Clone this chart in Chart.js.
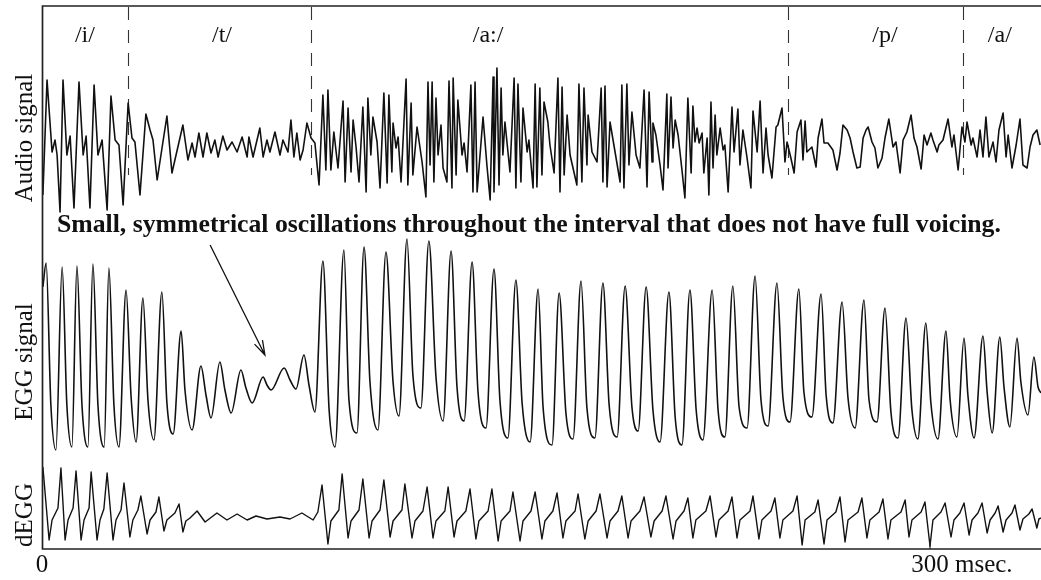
<!DOCTYPE html>
<html>
<head>
<meta charset="utf-8">
<script src="https://cdn.jsdelivr.net/npm/chart.js@4.4.0/dist/chart.umd.min.js"></script>
<style>
  html, body { margin: 0; padding: 0; background: #fff; }
  #wrap { width: 1041px; height: 580px; position: relative; }
</style>
</head>
<body>
<div id="wrap"><canvas id="egg"></canvas></div>
<script>
// segments of the utterance (ms)
const phonemes = ['/i/', '/t/', '/a:/', '/p/', '/a/'];
const phonemeMs = [14.5, 60.8, 150.7, 284.8, 323.6];
const boundaryMs = [29.1, 90.9, 252.0, 311.1];
const xTickMs = [0, 300];
const xTickLabels = ['0', '300 msec.'];
const panelTitles = ['Audio signal', 'EGG signal', 'dEGG'];
const note = 'Small, symmetrical oscillations throughout the interval that does not have full voicing.';

// audio waveform (ms, arbitrary amplitude)
const audioMs = [0.3, 1.7, 3.4, 4.4, 5.1, 6.1, 7.1, 8.4, 9.5, 10.8, 12.5, 13.9, 14.9, 16.2, 17.6, 18.9, 20.3, 22.0, 23.3, 24.7,
  26.0, 27.4, 29.1, 30.4, 31.4, 33.1, 35.1, 36.5, 37.5, 38.9, 42.2, 43.9, 47.6, 49.3, 50.7, 51.7, 53.0, 54.4, 55.7, 57.1,
  58.4, 59.5, 61.1, 62.5, 64.2, 65.9, 67.6, 69.3, 69.9, 71.3, 73.6, 74.7, 76.0, 77.0, 78.7, 80.4, 81.4, 83.1, 84.1, 85.1,
  86.1, 87.2, 88.2, 89.5, 90.9, 92.2, 93.6, 94.9, 95.9, 96.6, 97.6, 98.6, 100.0, 101.7, 102.4, 103.4, 104.4, 105.1, 106.1, 107.1,
  108.4, 109.5, 110.1, 111.1, 111.8, 113.2, 114.2, 115.5, 116.6, 117.2, 118.2, 118.6, 119.6, 120.3, 121.3, 123.0, 123.6, 124.7, 125.3, 126.7,
  128.4, 129.7, 130.4, 131.1, 131.8, 132.4, 133.1, 133.8, 134.8, 135.5, 136.8, 137.5, 138.5, 138.9, 139.9, 140.5, 141.9, 142.6, 143.6, 144.9,
  145.6, 146.3, 147.0, 149.0, 150.3, 151.4, 152.4, 152.7, 153.7, 154.4, 155.1, 155.7, 156.4, 158.1, 159.5, 160.1, 160.8, 161.8, 162.5, 163.9,
  164.5, 165.9, 166.6, 167.2, 168.2, 168.9, 169.6, 170.9, 171.6, 173.0, 174.3, 175.0, 175.7, 176.4, 177.4, 178.4, 180.7, 181.4, 182.4, 183.1,
  184.1, 184.5, 185.8, 187.5, 188.9, 189.5, 190.2, 190.9, 191.9, 193.6, 195.3, 195.9, 196.6, 197.6, 198.3, 199.3, 200.7, 202.0, 203.4, 204.4,
  205.1, 206.1, 206.4, 207.4, 208.8, 209.8, 211.1, 211.5, 212.5, 213.2, 213.9, 214.9, 216.2, 217.2, 218.2, 219.3, 219.9, 220.6, 221.3, 222.0,
  223.0, 223.6, 224.7, 225.3, 226.0, 226.7, 227.4, 228.0, 229.1, 230.1, 230.7, 231.8, 233.1, 233.8, 235.1, 235.8, 236.8, 238.2, 239.5, 240.2,
  241.6, 242.6, 243.6, 244.6, 245.3, 246.6, 248.0, 248.6, 250.0, 251.0, 251.7, 253.0, 254.1, 255.1, 256.4, 257.1, 257.8, 258.4, 260.1, 261.5,
  262.2, 263.5, 264.2, 265.5, 267.2, 268.6, 269.6, 270.6, 272.0, 273.0, 274.0, 275.3, 276.4, 277.4, 278.4, 279.1, 280.4, 281.4, 282.4, 283.8,
  284.8, 286.1, 287.5, 288.5, 289.9, 290.9, 292.2, 293.6, 294.6, 295.6, 297.0, 298.0, 299.0, 300.3, 301.0, 302.4, 303.0, 304.4, 306.1, 307.4,
  308.1, 309.5, 310.8, 311.8, 312.5, 313.9, 314.5, 315.9, 316.9, 317.9, 318.9, 319.9, 321.3, 322.3, 323.3, 324.7, 325.7, 326.4, 327.7, 329.1,
  330.4, 331.4, 332.8, 333.8, 334.8, 336.1, 337.2];
const audioAmp = [-50, 65, -7, 5, -10, -67, 65, -10, 9, -63, 63, -10, 9, -63, 60, -10, 5, -65, 49, 5,
  0, -60, 42, 7, 3, -50, 31, 15, 5, -35, 29, -28, 20, -15, 2, -12, 12, -12, 12, -8,
  5, -12, 9, -5, 3, -7, 8, -12, 8, -12, 17, -12, 5, -7, 13, -10, 5, -7, 25, -12,
  12, -15, -5, 22, 7, 2, -40, 50, -25, 55, -25, 13, -23, 44, -37, 37, -27, 25, -2, -37,
  38, -47, 47, -10, 28, 3, -43, 52, -38, 50, -27, 22, -3, 8, -37, 66, -40, 42, -30, 18,
  -17, -52, 63, -20, 63, -37, 47, -10, 20, -23, -37, 64, -43, 67, -30, 45, -10, 2, -27, 60,
  -47, 63, -47, 28, -20, -55, 68, -47, 77, -40, 57, -10, 23, -27, 67, -43, 61, -37, 37, -7,
  5, -43, 61, -42, 57, -30, 43, 23, 0, -28, 67, -47, 58, -30, 30, -10, -40, 61, -37, 57,
  -20, 30, -7, -17, 57, -37, 59, -42, 23, -7, -37, 60, -43, 61, -20, 33, -10, -23, 55, -42,
  53, -17, 22, 10, -20, -45, 51, -23, 48, -3, 25, 10, -25, -53, 47, -28, 39, 3, 17, 2,
  12, -28, 7, -50, 43, -23, 30, -10, 17, -5, 0, -47, 38, -7, 36, -20, 15, -13, -43, 34,
  -7, 44, -28, 17, -10, -33, 18, 20, 37, -17, 3, -13, -28, 13, 25, -15, 24, -7, -2, -22,
  7, 26, 2, 2, -5, -25, -8, 20, 15, 7, -7, -23, -22, 7, 15, 18, 3, -3, -23, -13,
  7, 26, -2, 3, -28, 5, 13, 30, 7, -2, -24, 10, 0, 12, 5, -7, 0, 5, 26, -2,
  10, -25, 18, 3, 23, 0, 7, -12, 15, -12, 28, -12, 3, -17, 15, 32, -12, 10, -23, 0,
  26, -20, -23, -2, 10, 15, 0];

// EGG: start, then peak / knee / trough of every glottal cycle
const eggMs = [0.3, 1.4, 3.0, 4.7, 6.8, 8.4, 10.1, 11.8, 13.5, 15.5, 17.2, 18.9, 21.0, 22.6, 24.3, 26.0,
  28.4, 30.1, 31.8, 34.1, 35.8, 37.8, 40.5, 42.2, 44.3, 47.0, 48.3, 50.7, 53.7, 55.4, 57.1,
  60.1, 61.8, 63.9, 67.2, 68.9, 71.0, 74.7, 76.0, 77.4, 81.8, 83.8, 85.8, 88.5, 90.2, 92.2,
  94.9, 97.0, 99.0, 102.0, 103.7, 106.4, 108.8, 110.8, 113.5, 116.2, 118.6, 120.6, 123.3, 125.3, 128.0,
  130.7, 133.1, 135.5, 138.2, 140.2, 142.6, 145.3, 147.3, 150.0, 152.7, 154.7, 157.4, 160.1, 162.2, 164.9,
  167.6, 169.3, 172.3, 174.7, 177.0, 179.4, 182.1, 184.1, 186.8, 189.5, 191.6, 194.3, 197.0, 199.3, 201.4,
  204.1, 206.4, 208.8, 211.8, 213.9, 216.2, 218.9, 221.0, 223.3, 226.4, 228.4, 230.7, 233.4, 235.5, 238.2,
  240.9, 242.9, 245.3, 248.3, 250.3, 252.7, 255.7, 257.4, 260.1, 263.2, 264.9, 267.2, 270.3, 272.3, 274.7,
  277.7, 279.4, 282.1, 284.8, 286.8, 289.2, 291.9, 293.9, 295.9, 298.6, 300.3, 302.7, 305.4, 306.8, 309.1,
  311.5, 312.8, 314.9, 317.9, 319.3, 321.0, 323.6, 325.0, 327.0, 329.4, 330.7, 333.1, 335.1, 336.5, 337.5];
const eggAmp = [163, 187, 45, 0, 183, 45, 3, 184, 45, 3, 186, 45, 3, 182, 45, 3,
  160, 53, 8, 152, 50, 10, 158, 47, 16, 119, 60, 20, 84, 55, 32,
  88, 60, 37, 80, 62, 47, 73, 65, 60, 82, 70, 61, 95, 65, 38,
  189, 40, 3, 200, 50, 17, 203, 68, 20, 198, 68, 34, 211, 75, 42,
  209, 73, 29, 199, 63, 29, 188, 58, 22, 181, 50, 12, 170, 47, 8,
  161, 42, 5, 157, 37, 11, 169, 42, 12, 167, 45, 13, 164, 43, 19,
  163, 40, 8, 158, 33, 5, 160, 40, 10, 160, 40, 13, 164, 43, 22,
  174, 50, 24, 167, 53, 28, 161, 58, 33, 156, 55, 27, 148, 52, 22,
  150, 50, 28, 142, 38, 12, 132, 40, 11, 127, 47, 11, 119, 50, 13,
  112, 55, 12, 114, 58, 17, 113, 63, 23, 112, 68, 35, 93, 63, 57];

// dEGG: rise spike / fall spike / recovery / pre-spike level per cycle
const degMs = [0.3, 2.4, 3.4, 5.4, 6.4, 7.8, 8.8, 10.5, 11.5, 13.2, 14.2, 15.9, 16.6, 18.6, 19.6, 20.9,
  22.0, 24.0, 25.0, 26.7, 27.7, 29.7, 30.7, 32.4, 33.4, 35.5, 36.5, 38.5, 39.5, 41.2, 42.2, 44.9,
  46.3, 47.6, 48.6, 50.0, 52.4, 55.1, 59.1, 62.5, 65.9, 69.3, 72.3, 76.0, 80.4, 83.8, 87.8, 91.6, 93.2,
  94.6, 96.6, 97.6, 100.3, 101.4, 103.4, 104.4, 107.1, 108.4, 110.5, 111.5, 114.2, 115.5, 117.6, 118.6, 121.6,
  122.6, 125.0, 126.0, 128.7, 130.1, 132.1, 133.1, 136.1, 137.2, 139.2, 140.2, 143.2, 144.6, 146.6, 147.6, 150.7,
  152.0, 154.1, 155.1, 158.1, 159.1, 161.5, 162.5, 165.2, 166.6, 168.9, 169.9, 172.6, 174.0, 176.0, 177.0, 180.1,
  181.1, 183.4, 184.5, 187.2, 188.5, 190.9, 191.9, 194.6, 195.9, 198.0, 199.0, 202.0, 203.4, 205.7, 206.8, 209.5,
  210.8, 213.2, 214.2, 216.9, 218.2, 219.9, 220.9, 224.3, 225.7, 227.7, 228.7, 231.8, 233.1, 234.8, 235.8, 239.2,
  240.2, 242.2, 243.2, 246.3, 247.6, 249.3, 250.3, 253.7, 255.1, 256.8, 257.8, 261.1, 262.2, 264.2, 265.2, 268.2,
  269.6, 271.3, 272.3, 275.7, 277.0, 278.7, 279.7, 282.8, 284.1, 285.8, 286.8, 290.2, 291.6, 292.9, 293.9, 297.0,
  298.3, 300.0, 301.0, 303.7, 305.1, 307.1, 308.1, 310.1, 311.5, 313.2, 314.2, 316.2, 317.6, 319.3, 320.3, 322.0,
  323.0, 324.7, 325.7, 327.7, 328.7, 330.4, 331.4, 333.4, 334.5, 336.1, 336.8, 337.5];
const degAmp = [51, -22, -2, 10, 50, -22, -2, 10, 47, -22, -2, 10, 46, -22, -2, 9,
  45, -22, -2, 8, 35, -19, -2, 8, 22, -16, -2, 6, 21, -13, -2, 5,
  14, -14, -3, 0, 7, -4, 5, -2, 4, -2, 2, -1, 1, -1, 5, -2, 6,
  33, -26, -3, 8, 44, -20, -3, 8, 39, -20, -3, 8, 38, -19, -3, 8,
  34, -20, -3, 7, 31, -20, -3, 7, 31, -19, -3, 7, 29, -21, -3, 7,
  29, -23, -3, 7, 26, -23, -3, 7, 26, -21, -3, 7, 25, -20, -3, 7,
  24, -21, -3, 7, 24, -20, -3, 7, 22, -20, -3, 7, 21, -19, -3, 7,
  22, -21, -3, 7, 20, -20, -2, 7, 22, -19, -2, 7, 21, -20, -2, 7,
  22, -21, -2, 7, 20, -20, -2, 7, 22, -27, -2, 6, 18, -26, -2, 6,
  21, -24, -2, 6, 20, -20, -2, 6, 19, -21, -2, 6, 18, -19, -2, 6,
  16, -28, -2, 6, 15, -19, -2, 5, 15, -17, -2, 5, 15, -15, -2, 5,
  12, -14, -2, 5, 13, -12, -1, 4, 9, -10, -1, 0];

const toPoints = (xs, ys) => xs.map((t, i) => ({ x: t, y: ys[i] }));

const serif = '"Liberation Serif", "Times New Roman", serif';
const ink = '#111';

const decorations = {
  id: 'decorations',
  beforeDatasetsDraw(chart) {
    const { ctx, chartArea, scales } = chart;
    ctx.save();
    ctx.strokeStyle = '#333';
    ctx.lineWidth = 1.1;
    ctx.setLineDash([13, 10]);
    boundaryMs.forEach(ms => {
      const px = Math.round(scales.x.getPixelForValue(ms)) + 0.5;
      ctx.beginPath();
      ctx.moveTo(px, chartArea.top + 1);
      ctx.lineTo(px, scales.yAudio.getPixelForValue(-30));
      ctx.stroke();
    });
    ctx.restore();
  },
  afterDraw(chart) {
    const { ctx, chartArea: ca, scales } = chart;
    const x = scales.x;
    ctx.save();
    // frame: top, left and bottom rules
    ctx.strokeStyle = '#222';
    ctx.lineWidth = 1.7;
    ctx.beginPath();
    ctx.moveTo(ca.right, ca.top);
    ctx.lineTo(ca.left + 0.5, ca.top);
    ctx.lineTo(ca.left + 0.5, ca.bottom);
    ctx.lineTo(ca.right, ca.bottom);
    ctx.stroke();

    // x ticks and labels
    ctx.fillStyle = ink;
    ctx.font = '25px ' + serif;
    ctx.textBaseline = 'alphabetic';
    xTickMs.forEach((ms, i) => {
      const px = x.getPixelForValue(ms);
      if (ms > 0) {
        ctx.lineWidth = 1.2;
        ctx.beginPath();
        ctx.moveTo(px, ca.bottom);
        ctx.lineTo(px, ca.bottom - 8);
        ctx.stroke();
      }
      const num = xTickLabels[i].split(' ')[0];
      ctx.textAlign = 'left';
      ctx.fillText(xTickLabels[i], px - ctx.measureText(num).width / 2, ca.bottom + 23);
    });

    // panel titles, rotated
    const titleCenters = [138, 362, 515];
    panelTitles.forEach((t, i) => {
      ctx.save();
      ctx.translate(32, titleCenters[i]);
      ctx.rotate(-Math.PI / 2);
      ctx.textAlign = 'center';
      ctx.fillText(t, 0, 0);
      ctx.restore();
    });

    // phoneme labels
    ctx.font = '24px ' + serif;
    ctx.textAlign = 'center';
    phonemes.forEach((p, i) => {
      ctx.fillText(p, x.getPixelForValue(phonemeMs[i]), scales.yAudio.getPixelForValue(103));
    });

    // annotation and arrow
    ctx.font = 'bold 26px ' + serif;
    ctx.textAlign = 'center';
    ctx.fillText(note, x.getPixelForValue(164.5), scales.yEgg.getPixelForValue(218), 944);

    const x0 = x.getPixelForValue(56.8), y0 = scales.yEgg.getPixelForValue(205);
    const x1 = x.getPixelForValue(75.3), y1 = scales.yEgg.getPixelForValue(95);
    const ang = Math.atan2(y1 - y0, x1 - x0);
    ctx.strokeStyle = ink;
    ctx.lineWidth = 1.3;
    ctx.beginPath();
    ctx.moveTo(x0, y0);
    ctx.lineTo(x1, y1);
    ctx.moveTo(x1 - 15 * Math.cos(ang - 0.3), y1 - 15 * Math.sin(ang - 0.3));
    ctx.lineTo(x1, y1);
    ctx.lineTo(x1 - 15 * Math.cos(ang + 0.3), y1 - 15 * Math.sin(ang + 0.3));
    ctx.stroke();
    ctx.restore();
  }
};

const lineStyle = {
  borderColor: ink,
  borderWidth: 1.6,
  borderJoinStyle: 'round',
  pointRadius: 0,
  fill: false
};

new Chart(document.getElementById('egg'), {
  type: 'line',
  data: {
    datasets: [
      Object.assign({ label: panelTitles[0], data: toPoints(audioMs, audioAmp), yAxisID: 'yAudio', tension: 0 }, lineStyle),
      Object.assign({ label: panelTitles[1], data: toPoints(eggMs, eggAmp), yAxisID: 'yEgg', cubicInterpolationMode: 'monotone' }, lineStyle),
      Object.assign({ label: panelTitles[2], data: toPoints(degMs, degAmp), yAxisID: 'yDegg', tension: 0 }, lineStyle, { borderWidth: 1.4 })
    ]
  },
  options: {
    responsive: true,
    maintainAspectRatio: false,
    animation: false,
    devicePixelRatio: 1,
    events: [],
    layout: { padding: { left: 42, top: 6, right: 0, bottom: 31 } },
    // stacked panels are laid out bottom-up: dEGG, EGG, audio
    scales: {
      x: { type: 'linear', min: 0, max: 337.5, display: false },
      yDegg: { axis: 'y', type: 'linear', position: 'left', min: -31, max: 63, display: false, stack: 'panels', stackWeight: 94 },
      yEgg: { axis: 'y', type: 'linear', position: 'left', min: -5, max: 235, display: false, stack: 'panels', stackWeight: 240 },
      yAudio: { axis: 'y', type: 'linear', position: 'left', min: -70, max: 139, display: false, stack: 'panels', stackWeight: 209 }
    },
    plugins: {
      legend: { display: false },
      tooltip: { enabled: false }
    }
  },
  plugins: [decorations]
});
</script>
</body>
</html>
